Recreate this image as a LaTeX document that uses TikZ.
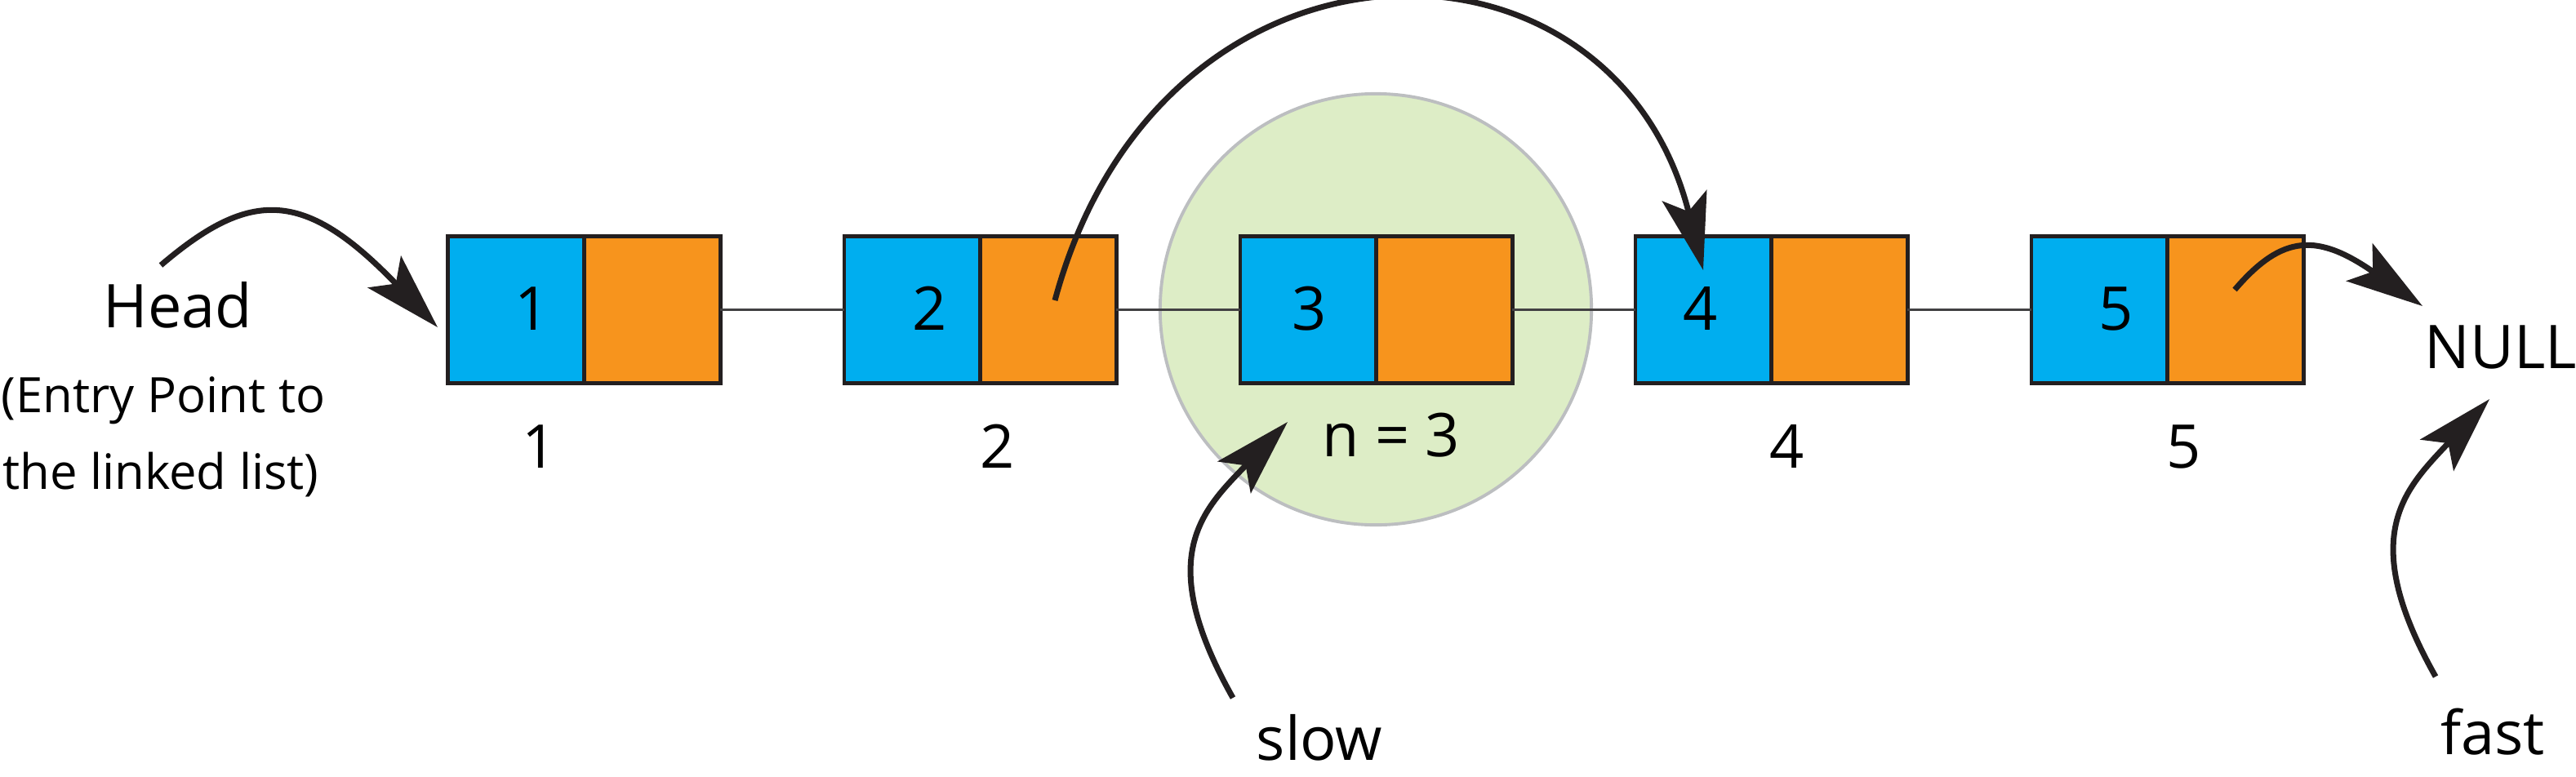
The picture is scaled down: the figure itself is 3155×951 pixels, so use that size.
\documentclass[tikz,border=0pt]{standalone}
\usepackage{fontspec}
\setmainfont{Open Sans}
\usetikzlibrary{arrows.meta}
\definecolor{cblue}{HTML}{00AEEF}
\definecolor{corange}{HTML}{F7941D}
\definecolor{cgreen}{HTML}{DDEDC6}
\definecolor{cgray}{HTML}{BCBEC0}
\definecolor{cink}{HTML}{231F20}
\definecolor{clink}{HTML}{414042}
\begin{document}
\begin{tikzpicture}[x=0.01cm,y=-0.01cm,
  half/.style={draw=cink, line width=1.4pt, minimum width=1.665cm, minimum height=1.8cm, inner sep=0pt, outer sep=0pt},
  datahalf/.style={half, fill=cblue},
  ptrhalf/.style={half, fill=corange},
  txt/.style={font=\fontsize{21}{25}\selectfont, inner sep=0pt, anchor=base},
  subtxt/.style={font=\fontsize{17}{25}\selectfont, inner sep=0pt, anchor=base},
  link/.style={draw=clink, line width=1.1pt},
  pointer/.style={draw=cink, line width=2pt, -{Stealth[length=9.4mm,width=5.6mm,inset=2mm]}},
  halo/.style={circle, fill=cgreen, draw=cgray, line width=1.1pt, minimum size=5.28cm, inner sep=0pt},
]
\useasboundingbox (0,0) rectangle (3155,951);

% highlight circle
\node[halo] (halo) at (1685,379) {};

% boxes
\foreach \i/\l in {1/549,2/1034,3/1519,4/2003,5/2488}{
  \node[datahalf] (b\i) at (\l+83.25,379.5) {};
  \node[ptrhalf]  (o\i) at (\l+249.75,379.5) {};
}

% links
\draw[link] (o1.east) -- (b2.west);
\draw[link] (o2.east) -- (b3.west);
\draw[link] (o3.east) -- (b4.west);
\draw[link] (o4.east) -- (b5.west);

% numbers in boxes
\node[txt] (v1) at (652,404) {1};
\node[txt] (v2) at (1139,404) {2};
\node[txt] (v3) at (1604,404) {3};
\node[txt] (v4) at (2083,404) {4};
\node[txt] (v5) at (2592,404) {5};

% labels under boxes
\node[txt] (l1) at (661,573) {1};
\node[txt] (l2) at (1222,573) {2};
\node[txt] (l3) at (1704,559) {n = 3};
\node[txt] (l4) at (2189,573) {4};
\node[txt] (l5) at (2675,573) {5};

% side texts
\node[txt] (head) at (218,401) {Head};
\node[subtxt] (entry1) at (200,505) {(Entry Point to};
\node[subtxt] (entry2) at (197,599) {the linked list)};
\node[txt] (null) at (3063,451) {NULL};
\node[txt] (slow) at (1616,931) {slow};
\node[txt] (fast) at (3053,924) {fast};

% arrow end points
\coordinate (hA) at (197,325);
\coordinate (hB) at (536,401);
\coordinate (jA) at (1292,368);
\coordinate (jB) at (2086,331);
\coordinate (nA) at (2737,355);
\coordinate (nB) at (2967,375);
\coordinate (sA) at (1510,855);
\coordinate (sB) at (1577,517);
\coordinate (fA) at (2983,829);
\coordinate (fB) at (3049,489);

% arrows
\draw[pointer] (hA) .. controls (307,231) and (373,231) .. (hB);
\draw[pointer] (jA) .. controls (1421,-111) and (1975,-111) .. (jB);
\draw[pointer] (nA) .. controls (2796,286) and (2839,286) .. (nB);
\draw[pointer] (sA) .. controls (1412,681) and (1473,625) .. (sB);
\draw[pointer] (fA) .. controls (2885,655) and (2946,599) .. (fB);
\end{tikzpicture}
\end{document}
